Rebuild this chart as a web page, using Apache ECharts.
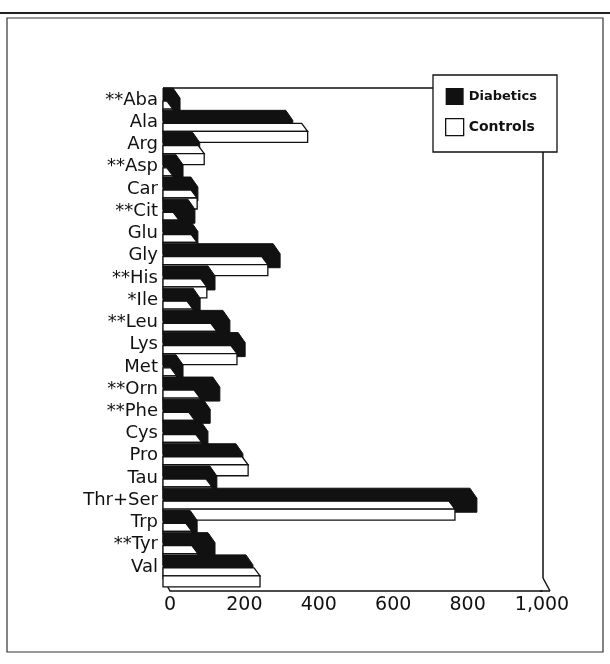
<!DOCTYPE html>
<html>
<head>
<meta charset="utf-8">
<script src="https://cdn.jsdelivr.net/npm/echarts@6/dist/echarts.min.js"></script>
<style>html,body{margin:0;padding:0;background:#fff;}#c{width:610px;height:664px;}</style>
</head>
<body>
<div id="c"></div>
<script>
const categories = ['**Aba','Ala','Arg','**Asp','Car','**Cit','Glu','Gly','**His','*Ile','**Leu','Lys','Met','**Orn','**Phe','Cys','Pro','Tau','Thr+Ser','Trp','**Tyr','Val'];
const diabetics = [27,330,80,35,75,67,75,296,121,81,161,202,35,134,108,102,196,126,825,73,121,223];
const controls  = [8,370,92,8,73,25,73,263,99,62,126,180,18,81,67,86,210,113,766,59,75,242];
const xTickLabels = ['0','200','400','600','800','1,000'];

const chart = echarts.init(document.getElementById('c'), null, {renderer:'canvas'});

function renderDiab(params, api){
  const v = api.value(0), idx = api.value(1);
  const base = api.coord([0, idx]);
  const end = api.coord([v, idx]);
  const c = base[1], x0 = base[0] - 7, xf = end[0];
  const dx = 7, dy = 10;
  const T = c - 12, B = c + 12;
  const xb = Math.max(x0, xf - dx);
  return {
    type:'polygon', z2: idx*2,
    shape:{points:[[x0,T],[xb,T],[xf,T+dy],[xf,B],[x0,B]]},
    style:{fill:'#111', stroke:'#111', lineWidth:1}
  };
}
function renderCtrl(params, api){
  const v = api.value(0), idx = api.value(1);
  const base = api.coord([0, idx]);
  const end = api.coord([v, idx]);
  const c = base[1], x0 = base[0] - 7, xf = end[0];
  const dx = 6, dy = 8;
  const T = c + 1, B = c + 20;
  const xb = Math.max(x0, xf - dx);
  const st = {fill:'#fff', stroke:'#111', lineWidth:1.3};
  return {
    type:'group',
    children:[
      {type:'polygon', z2: idx*2+1, shape:{points:[[x0,T],[xb,T],[xf,T+dy],[x0,T+dy]]}, style:st},
      {type:'polygon', z2: idx*2+1, shape:{points:[[x0,T+dy],[xf,T+dy],[xf,B],[x0,B]]}, style:st}
    ]
  };
}

const option = {
  backgroundColor:'#fff',
  animation:false,
  grid:{left:170, right:68, top:89, bottom:86, containLabel:false},
  xAxis:{
    type:'value', min:0, max:1000, interval:200, offset:13,
    axisLine:{show:true, lineStyle:{color:'#111', width:1.5}},
    axisTick:{show:false},
    splitLine:{show:false},
    axisLabel:{margin:5, color:'#111', fontFamily:'DejaVu Sans', fontSize:19,
      formatter:(val)=>xTickLabels[Math.round(val/200)]}
  },
  yAxis:{
    type:'category', data:categories, inverse:true, offset:7,
    axisLine:{show:true, lineStyle:{color:'#111', width:1.5}},
    axisTick:{show:false},
    axisLabel:{interval:0, margin:5, color:'#111', fontFamily:'DejaVu Sans', fontSize:18}
  },
  legend:{
    orient:'vertical', left:445, top:88, padding:0,
    itemWidth:18, itemHeight:17, itemGap:13, icon:'rect',
    data:[
      {name:'Diabetics', itemStyle:{color:'#111'}, textStyle:{fontFamily:'DejaVu Sans', fontWeight:'bold', fontSize:13, color:'#111'}},
      {name:'Controls', itemStyle:{color:'#fff', borderColor:'#111', borderWidth:1.3}, textStyle:{fontFamily:'DejaVu Sans', fontWeight:'bold', fontSize:14, color:'#111'}}
    ],
    selectedMode:false
  },
  graphic:[
    {type:'line', z:-1, shape:{x1:0,y1:13,x2:610,y2:13}, style:{stroke:'#222', lineWidth:2}},
    {type:'rect', z:-1, shape:{x:7,y:18,width:596,height:634}, style:{fill:'none', stroke:'#333', lineWidth:1.2}},
    {type:'line', z:-1, shape:{x1:163,y1:88,x2:433,y2:88}, style:{stroke:'#111', lineWidth:1.5}},
    {type:'line', z:-1, shape:{x1:543,y1:152,x2:543,y2:578}, style:{stroke:'#111', lineWidth:1.5}},
    {type:'line', z:-1, shape:{x1:543,y1:578,x2:550,y2:591}, style:{stroke:'#111', lineWidth:1.5}},
    {type:'line', z:-1, shape:{x1:540,y1:591,x2:550,y2:591}, style:{stroke:'#111', lineWidth:1.5}},
    {type:'line', z:-1, shape:{x1:163,y1:578,x2:170,y2:591}, style:{stroke:'#111', lineWidth:1.5}},
    {type:'rect', z:1, shape:{x:433,y:75,width:124,height:77}, style:{fill:'#fff', stroke:'#111', lineWidth:1.3}}
  ],
  series:[
    {name:'Diabetics', type:'custom', renderItem:renderDiab, itemStyle:{color:'#111'},
      encode:{x:0, y:1}, data: diabetics.map((v,i)=>[v,i]), clip:false},
    {name:'Controls', type:'custom', renderItem:renderCtrl, itemStyle:{color:'#fff'},
      encode:{x:0, y:1}, data: controls.map((v,i)=>[v,i]), clip:false}
  ]
};
chart.setOption(option);
</script>
</body>
</html>
